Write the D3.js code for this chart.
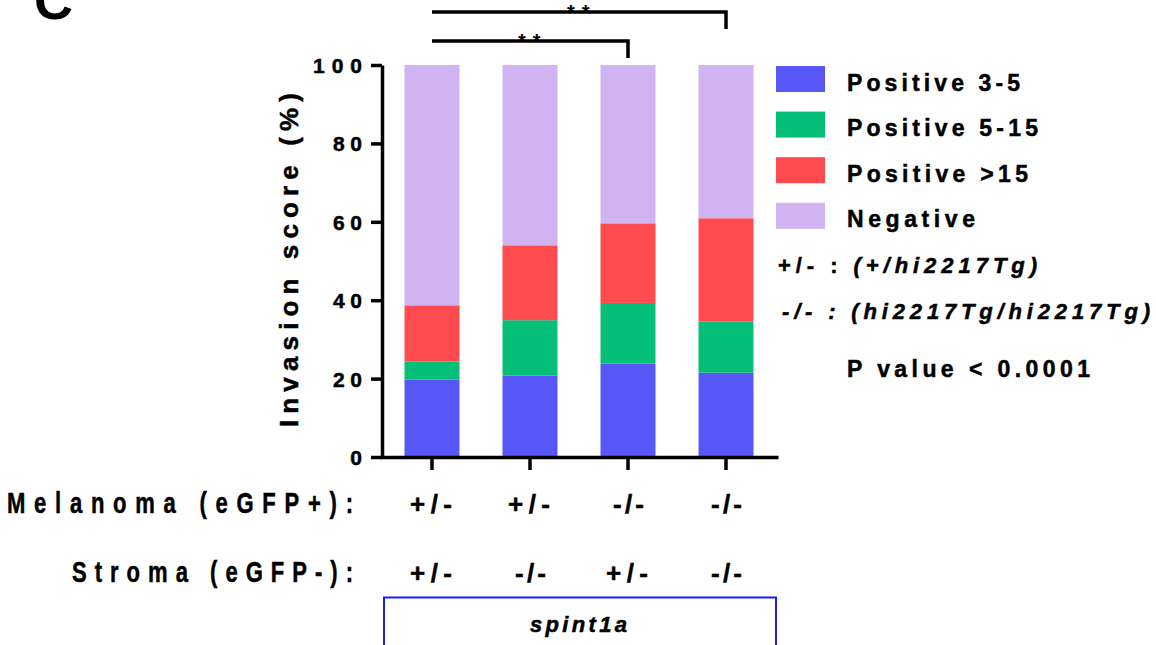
<!DOCTYPE html>
<html>
<head>
<meta charset="utf-8">
<script src="https://cdn.jsdelivr.net/npm/d3@7"></script>
<style>
  body { margin: 0; background: #fff; }
  svg { display: block; font-family: "Liberation Sans", Arial, sans-serif; font-weight: bold; }
  .heavy { stroke: #000; stroke-width: 0.5px; }
</style>
</head>
<body>
<svg id="chart" width="1156" height="645"></svg>
<script>
// ---- data ----
const groups = ["A", "B", "C", "D"];
const melanoma = ["+/-", "+/-", "-/-", "-/-"];
const stroma = ["+/-", "-/-", "+/-", "-/-"];
const seriesNames = ["Positive 3-5", "Positive 5-15", "Positive >15", "Negative"];
const positive3to5 = [19.8, 20.8, 23.8, 21.5];
const positive5to15 = [4.6, 14.1, 15.5, 13.1];
const positiveOver15 = [14.3, 19.1, 20.3, 26.3];
const negative = [61.3, 46.0, 40.4, 39.1];
const yTicks = [0, 20, 40, 60, 80, 100];
const comparisons = [
  { from: 0, to: 3, label: "**" },
  { from: 0, to: 2, label: "**" }
];
const colors = ["#5757F8", "#05BE78", "#FF4A4F", "#CFB4F1"];

const svg = d3.select("#chart");

// stacked table
const keys = ["p35", "p515", "p15", "neg"];
const table = groups.map((g, i) => ({
  group: g,
  p35: positive3to5[i],
  p515: positive5to15[i],
  p15: positiveOver15[i],
  neg: negative[i]
}));
const stacked = d3.stack().keys(keys)(table);

const x = d3.scaleBand().domain(groups).range([380, 778])
  .paddingInner(0.439).paddingOuter(0.25);
const y = d3.scaleLinear().domain([0, 100]).range([457, 65]);
const color = d3.scaleOrdinal().domain(keys).range(colors);

// panel letter (cut by the top edge, as in the source figure)
svg.append("text").attr("x", 34).attr("y", 19)
  .style("font-size", "54px").text("C");

// bars
svg.append("g").selectAll("g")
  .data(stacked)
  .join("g")
  .attr("fill", d => color(d.key))
  .selectAll("rect")
  .data(d => d)
  .join("rect")
  .attr("x", d => x(d.data.group))
  .attr("y", d => y(d[1]))
  .attr("width", x.bandwidth())
  .attr("height", d => y(d[0]) - y(d[1]));

// y axis
const yAxis = svg.append("g")
  .attr("transform", "translate(382,0)")
  .call(d3.axisLeft(y).tickValues(yTicks).tickSize(11).tickSizeOuter(0).tickPadding(9));
yAxis.select(".domain").attr("stroke-width", 3.5).attr("stroke", "#000");
yAxis.selectAll(".tick line").attr("stroke-width", 3.5).attr("stroke", "#000");
yAxis.selectAll(".tick text")
  .attr("class", "heavy")
  .attr("fill", "#000")
  .attr("dy", "0.36em")
  .style("font-size", "21px")
  .style("font-family", "\"Liberation Sans\", Arial, sans-serif")
  .style("font-weight", "bold")
  .attr("textLength", d => String(d).length === 1 ? null : (String(d).length === 2 ? 29 : 49))
  .attr("lengthAdjust", "spacing");

// x axis
const xAxis = svg.append("g")
  .attr("transform", "translate(0,457)")
  .call(d3.axisBottom(x).tickSize(13).tickSizeOuter(0).tickFormat(""));
xAxis.select(".domain").attr("stroke-width", 3.5).attr("stroke", "#000");
xAxis.selectAll(".tick line").attr("stroke-width", 3.5).attr("stroke", "#000");

// y title
svg.append("text")
  .attr("class", "heavy")
  .attr("transform", "translate(298,260) rotate(-90)")
  .attr("text-anchor", "middle")
  .attr("textLength", 334).attr("lengthAdjust", "spacing")
  .style("font-size", "26px")
  .text("Invasion score (%)");

// significance brackets
const levels = [12, 41];
comparisons.forEach((c, i) => {
  const x1 = x(groups[c.from]) + x.bandwidth() / 2;
  const x2 = x(groups[c.to]) + x.bandwidth() / 2;
  const ly = levels[i];
  svg.append("path")
    .attr("d", `M${x1},${ly}H${x2}V${ly + 17}`)
    .attr("fill", "none").attr("stroke", "#000").attr("stroke-width", 3.5);
  svg.append("text")
    .attr("x", i === 0 ? 567 : 518).attr("y", ly + 7)
    .style("font-size", "20px")
    .attr("letter-spacing", 7)
    .text(c.label);
});

// legend
const legend = svg.append("g");
const legendWidths = [173, 191, 181, 128];
seriesNames.forEach((name, i) => {
  const ty = 66 + i * 45.6;
  legend.append("rect").attr("x", 776).attr("y", ty)
    .attr("width", 49).attr("height", 26).attr("fill", colors[i]);
  legend.append("text").attr("class", "heavy").attr("x", 847).attr("y", ty + 24.5)
    .attr("textLength", legendWidths[i]).attr("lengthAdjust", "spacing")
    .style("font-size", "23px").text(name);
});

// genotype key
const key1 = svg.append("text").attr("class", "heavy").attr("x", 778).attr("y", 273)
  .attr("textLength", 259).attr("lengthAdjust", "spacing").style("font-size", "22px");
key1.append("tspan").text("+/- : ");
key1.append("tspan").style("font-style", "italic").text("(+/hi2217Tg)");
const key2 = svg.append("text").attr("class", "heavy").attr("x", 782).attr("y", 319)
  .attr("textLength", 368).attr("lengthAdjust", "spacing").style("font-size", "22px");
key2.append("tspan").style("font-style", "italic").text("-/- : (hi2217Tg/hi2217Tg)");
svg.append("text").attr("class", "heavy").attr("x", 847).attr("y", 377)
  .attr("textLength", 243).attr("lengthAdjust", "spacing")
  .style("font-size", "23px").text("P value < 0.0001");

// genotype rows (condensed lettering)
const squeeze = 0.76;
[["Melanoma (eGFP+):", 7, 513, 346], ["Stroma (eGFP-):", 72, 582, 281]].forEach(([t, tx, ty, w]) => {
  svg.append("text")
    .attr("class", "heavy")
    .attr("transform", `translate(${tx},${ty}) scale(${squeeze},1)`)
    .attr("textLength", w / squeeze).attr("lengthAdjust", "spacing")
    .style("font-size", "29px")
    .text(t);
});

[[melanoma, 513], [stroma, 582]].forEach(([labels, ry]) => {
  svg.append("g").selectAll("text")
    .data(groups)
    .join("text")
    .attr("class", "heavy")
    .attr("x", (d, i) => x(d) + x.bandwidth() / 2 - (labels[i] === "+/-" ? 22 : 15))
    .attr("y", ry)
    .attr("textLength", (d, i) => labels[i] === "+/-" ? 42 : 31)
    .attr("lengthAdjust", "spacing")
    .style("font-size", "26px")
    .text((d, i) => labels[i]);
});

// gene box
svg.append("rect").attr("x", 384).attr("y", 597.5)
  .attr("width", 392).attr("height", 60)
  .attr("fill", "none").attr("stroke", "#1C1CF5").attr("stroke-width", 2);
svg.append("text").attr("class", "heavy").attr("x", 530).attr("y", 632)
  .attr("textLength", 97).attr("lengthAdjust", "spacing")
  .style("font-size", "22px").style("font-style", "italic")
  .text("spint1a");
</script>
</body>
</html>
